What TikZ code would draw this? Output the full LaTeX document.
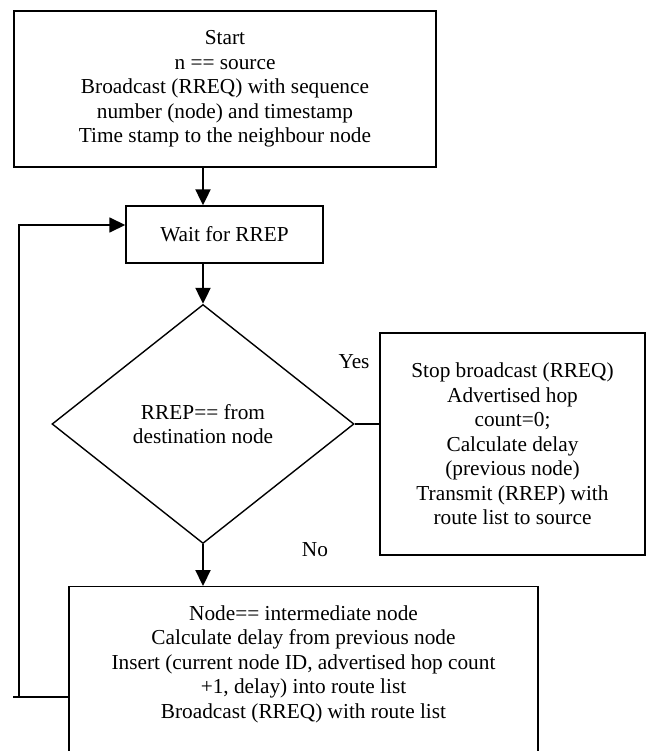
\documentclass[tikz,border=0pt]{standalone}
\usepackage{fontspec}
\setmainfont{Liberation Serif}
\usepackage{tikz}
\usetikzlibrary{shapes,arrows,positioning,calc,arrows.meta}

\begin{document}
\begin{tikzpicture}[x=1pt, y=-1pt, >={Triangle[length=16pt,width=15pt]},
   box/.style={draw, rectangle, line width=1.4pt, inner sep=0pt, align=center, font=\fontsize{21.3}{24.5}\selectfont},
   dec/.style={draw, diamond, line width=1.4pt, inner sep=0pt, aspect=1.26, align=center, font=\fontsize{21.3}{24.5}\selectfont},
   txt/.style={inner sep=0pt, align=center, font=\fontsize{21.3}{24.5}\selectfont},
   flow/.style={->, line width=2.2pt}]
   \useasboundingbox (0,0) rectangle (647,751);
   \clip (0,0) rectangle (647,751);

   % Start
   \node[box, minimum width=422, minimum height=156] (start) at (225,89)
      {Start\\ n == source\\ Broadcast (RREQ) with sequence\\ number (node) and timestamp\\ Time stamp to the neighbour node};

   % Wait
   \node[box, minimum width=197, minimum height=57] (wait) at (224.5,234.5) {Wait for RREP};

   % Decision
   \node[dec, minimum width=302, minimum height=239] (dest) at (203,424) {RREP== from\\ destination node};

   % Yes branch
   \node[box, minimum width=265, minimum height=222] (stop) at (512.5,444)
      {Stop broadcast (RREQ)\\ Advertised hop\\ count=0;\\ Calculate delay\\ (previous node)\\ Transmit (RREP) with\\ route list to source};
   \node[txt] (yes) at (354,362) {Yes};

   % No branch
   \node[box, minimum width=469, minimum height=220, anchor=north] (inter) at (303.5,586) {};
   \node[txt] (intertxt) at (303.5,664)
      {Node== intermediate node\\ Calculate delay from previous node\\ Insert (current node ID, advertised hop count\\ +1, delay) into route list\\ Broadcast (RREQ) with route list};
   \node[txt] (no) at (315,550) {No};

   % Connections
   \draw[flow] (start.south -| dest.north) -- (wait.north -| dest.north);
   \draw[flow] (wait.south -| dest.north) -- (dest.north);
   \draw[flow] (dest.south) -- (inter.north -| dest.south);
   \draw[line width=1.4pt] (dest.east) -- (stop.west |- dest.east);

   % Loop back
   \coordinate (loopstub) at (13,697);
   \coordinate (loopcorner) at (19,697);
   \draw[line width=1.4pt] (inter.west |- loopstub) -- (loopstub);
   \draw[->, line width=1.6pt] (loopcorner) |- ([yshift=9.5pt]wait.west);
\end{tikzpicture}
\end{document}
